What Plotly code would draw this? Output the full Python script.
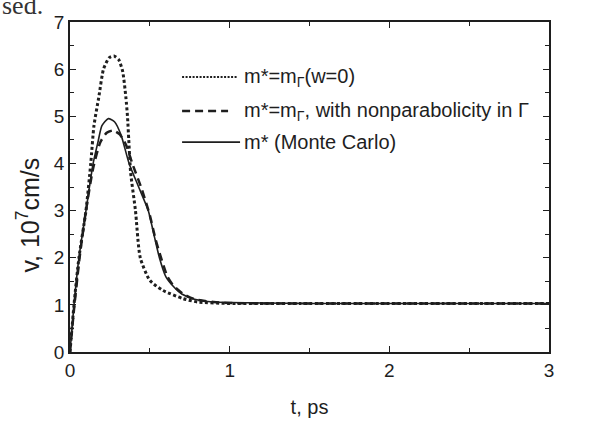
import plotly.graph_objects as go

# ---- data ----
t_mc = [0, 0.025, 0.056, 0.10, 0.145, 0.175, 0.20, 0.24, 0.28, 0.32, 0.37, 0.43, 0.49, 0.525,
        0.56, 0.60, 0.645, 0.70, 0.78, 0.90, 1.0, 1.2, 1.5, 2.0, 2.5, 3.0]
v_mc = [0, 1.0, 2.0, 3.0, 4.0, 4.45, 4.8, 4.95, 4.88, 4.6, 4.0, 3.5, 3.0, 2.5,
        2.0, 1.6, 1.4, 1.23, 1.12, 1.06, 1.05, 1.04, 1.03, 1.03, 1.03, 1.03]

t_np = [0, 0.025, 0.06, 0.10, 0.145, 0.19, 0.23, 0.27, 0.31, 0.35, 0.39, 0.45, 0.50, 0.535,
        0.57, 0.61, 0.65, 0.71, 0.78, 0.90, 1.0, 1.2, 1.5, 2.0, 2.5, 3.0]
v_np = [0, 0.9, 2.0, 3.0, 3.9, 4.45, 4.65, 4.7, 4.62, 4.4, 4.0, 3.45, 2.9, 2.4,
        2.0, 1.6, 1.4, 1.23, 1.12, 1.06, 1.04, 1.03, 1.03, 1.03, 1.03, 1.03]

t_w0 = [0, 0.025, 0.056, 0.10, 0.13, 0.15, 0.18, 0.21, 0.245, 0.275, 0.305, 0.33, 0.35, 0.36,
        0.368, 0.38, 0.41, 0.44, 0.50, 0.58, 0.71, 0.80, 1.0, 1.5, 2.0, 2.5, 3.0]
v_w0 = [0, 1.0, 2.0, 3.0, 4.0, 4.8, 5.4, 6.0, 6.24, 6.28, 6.2, 5.95, 5.4, 5.0,
        4.5, 3.8, 3.0, 2.0, 1.52, 1.31, 1.13, 1.06, 1.03, 1.03, 1.03, 1.03, 1.03]

legend_labels = ["m*=m<sub>Γ</sub>(w=0)",
                 "m*=m<sub>Γ</sub>, with nonparabolicity in Γ",
                 "m* (Monte Carlo)"]
x_ticks = [0, 1, 2, 3]
y_ticks = [0, 1, 2, 3, 4, 5, 6, 7]

INK = "#1e1e1e"
FONT = "Liberation Sans, Arial, sans-serif"

fig = go.Figure()
fig.add_trace(go.Scatter(x=t_w0, y=v_w0, mode="lines",
                         line=dict(color=INK, width=3, dash="3px,2.5px", shape="spline", smoothing=0.6),
                         showlegend=False))
fig.add_trace(go.Scatter(x=t_np, y=v_np, mode="lines",
                         line=dict(color=INK, width=2.5, dash="8px,5px", shape="spline", smoothing=0.6),
                         showlegend=False))
fig.add_trace(go.Scatter(x=t_mc, y=v_mc, mode="lines",
                         line=dict(color=INK, width=1.6, shape="spline", smoothing=0.6),
                         showlegend=False))

# manual legend (paper coords)
leg_y = [0.833, 0.730, 0.636]
leg_dash = ["2px,1.5px", "8px,5px", "solid"]
leg_w = [2, 2.5, 1.6]
leg_x1 = [0.349, 0.330, 0.355]
for lab, yy, ds, w, x1 in zip(legend_labels, leg_y, leg_dash, leg_w, leg_x1):
    fig.add_shape(type="line", xref="paper", yref="paper", x0=0.234, x1=x1, y0=yy, y1=yy,
                  line=dict(color=INK, width=w, dash=ds))
    fig.add_annotation(xref="paper", yref="paper", x=0.360, y=yy, xanchor="left", yanchor="middle",
                       text=lab, showarrow=False, font=dict(family=FONT, size=20, color=INK))

# y-axis title (placed as in the reference, lower than centre)
fig.add_annotation(xref="paper", yref="paper", x=-0.088, y=0.416, xanchor="center", yanchor="middle",
                   text="v, 10<sup>7</sup>cm/s", textangle=-90, showarrow=False,
                   font=dict(family=FONT, size=25, color=INK))

# stray text from the scanned page
fig.add_annotation(xref="paper", yref="paper", x=-0.146, y=1.0, xanchor="left", yanchor="bottom",
                   text="sed.", showarrow=False, font=dict(family="Liberation Serif, serif", size=26, color="#333"))

axis_common = dict(showline=True, linecolor=INK, linewidth=1.8, mirror="ticks", ticks="inside",
                   ticklen=6, tickwidth=1.2, tickcolor=INK, showgrid=False, zeroline=False,
                   tickfont=dict(family=FONT, size=19, color=INK))

fig.update_xaxes(range=[0, 3], tickvals=x_ticks, ticktext=[str(v) for v in x_ticks],
                 minor=dict(dtick=0.5, ticks="inside", ticklen=4, tickcolor=INK, tickwidth=1.2),
                 title=dict(text="t, ps", font=dict(family=FONT, size=20, color=INK), standoff=20),
                 **axis_common)
fig.update_yaxes(range=[0, 7], tickvals=y_ticks, ticktext=[str(v) for v in y_ticks],
                 minor=dict(dtick=0.5, ticks="inside", ticklen=4, tickcolor=INK, tickwidth=1.2),
                 **axis_common)

fig.update_layout(width=595, height=427, margin=dict(l=70, r=46, t=16, b=70),
                  paper_bgcolor="white", plot_bgcolor="white", showlegend=False)

fig.write_html("out.html")
